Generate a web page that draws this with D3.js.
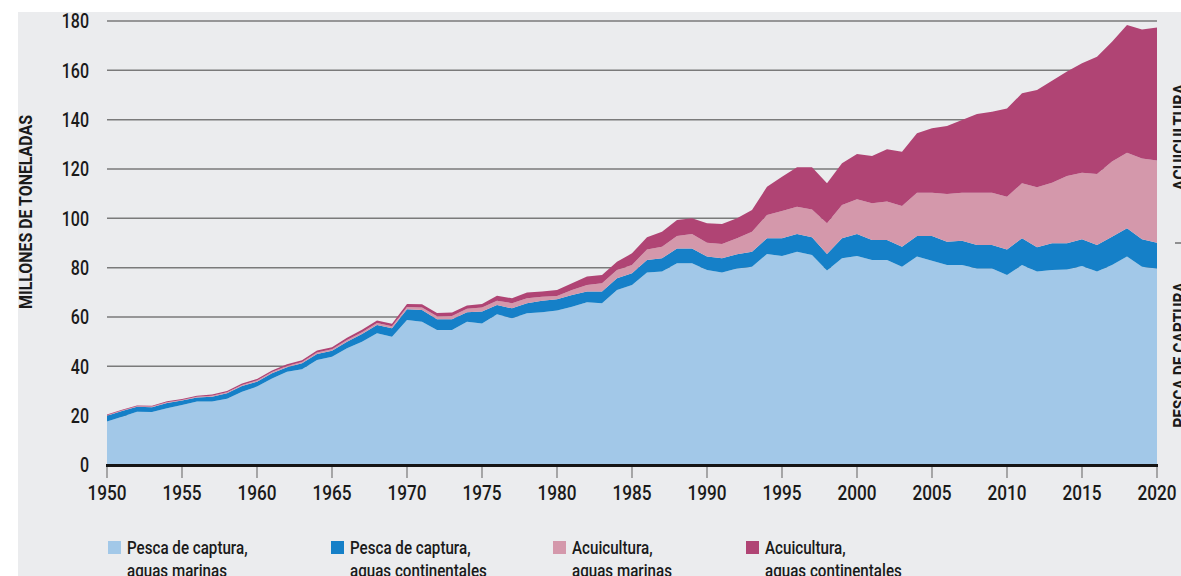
<!DOCTYPE html>
<html><head><meta charset="utf-8">
<script src="https://cdn.jsdelivr.net/npm/d3@7"></script>
<style>
html,body{margin:0;padding:0;background:#fff;}
svg{display:block;}
text{font-family:Roboto,"Liberation Sans",sans-serif;fill:#1a1a1a;font-weight:500;}
text.bold{font-weight:700;}
</style></head><body>
<svg id="chart" width="1181" height="576"></svg>
<script>
const years = d3.range(1950, 2021);
const capturaMarina = [17.6,19.6,21.6,21.5,23.0,24.3,25.7,25.7,26.9,29.7,31.8,35.1,37.8,38.8,42.6,43.9,47.3,50.0,53.4,52.0,58.8,58.1,54.7,54.7,58.1,57.4,61.1,59.5,61.5,61.9,62.6,64.2,66.0,65.6,70.9,73.0,78.0,78.4,81.8,81.8,79.1,78.0,79.7,80.4,85.5,84.7,86.5,85.1,78.9,83.8,84.7,83.1,83.1,80.4,84.5,82.8,81.1,81.1,79.7,79.7,77.0,81.1,78.4,79.1,79.3,80.7,78.4,81.1,84.5,80.4,79.7];
const capturaContinental = [2.4,2.3,2.0,1.9,2.1,1.8,1.7,2.0,2.2,2.3,2.0,2.1,1.8,2.4,2.4,2.4,2.7,3.1,3.4,3.4,4.3,4.7,4.4,4.4,3.8,4.8,3.8,4.0,4.1,4.7,4.6,4.7,4.3,4.7,4.8,4.7,5.1,5.4,6.0,6.0,5.4,5.8,5.7,6.1,6.4,7.2,7.1,7.2,6.6,8.1,8.9,8.1,8.1,8.1,8.3,10.0,9.4,9.8,9.5,9.5,10.4,10.8,9.9,10.8,10.6,10.8,10.8,11.4,11.5,11.1,10.4];
const acuiculturaMarina = [0.2,0.2,0.2,0.3,0.3,0.3,0.3,0.4,0.4,0.4,0.5,0.5,0.5,0.6,0.6,0.6,0.7,0.7,0.8,0.8,1.0,1.1,1.2,1.3,1.4,1.7,1.7,2.1,2.0,1.6,1.3,2.0,2.7,3.4,3.4,3.4,4.3,4.7,5.0,5.8,5.6,5.8,6.5,8.1,9.5,11.1,11.1,11.3,12.5,13.5,14.1,14.9,15.6,16.5,17.6,17.6,19.4,19.5,21.2,21.2,21.4,22.3,24.3,24.5,27.3,27.0,28.8,30.5,30.6,32.8,33.3];
const acuiculturaContinental = [0.3,0.3,0.3,0.3,0.4,0.4,0.4,0.5,0.5,0.6,0.6,0.6,0.7,0.7,0.8,0.8,0.9,1.0,1.0,1.1,1.2,1.3,1.3,1.4,1.4,1.4,2.0,2.0,2.3,2.1,2.4,2.8,3.4,3.3,3.3,4.7,4.9,6.1,6.5,6.4,7.9,8.1,8.1,8.8,11.4,13.9,16.0,17.1,16.2,16.9,18.4,19.2,21.2,22.0,24.1,26.1,27.5,29.5,31.9,32.8,35.7,36.5,39.4,41.4,42.3,44.4,47.5,48.6,51.8,52.3,54.0];
const yTicks = [0,20,40,60,80,100,120,140,160,180];
const xTicks = [1950,1955,1960,1965,1970,1975,1980,1985,1990,1995,2000,2005,2010,2015,2020];
const seriesKeys = ["cm","cc","am","ac"];
const seriesColors = ["#a2c8e8","#1580c8","#d498ab","#b04474"];
const legendLine1 = ["Pesca de captura,","Pesca de captura,","Acuicultura,","Acuicultura,"];
const legendLine2 = ["aguas marinas","aguas continentales","aguas marinas","aguas continentales"];
const yTitle = "MILLONES DE TONELADAS";
const sideLabels = ["ACUICULTURA","PESCA DE CAPTURA"];

const table = years.map((y,i)=>({year:y, cm:capturaMarina[i], cc:capturaContinental[i], am:acuiculturaMarina[i], ac:acuiculturaContinental[i]}));

const svg = d3.select("#chart");
svg.append("rect").attr("x",18).attr("y",12).attr("width",1181-18).attr("height",576-12).attr("fill","#ebecee");

const x = d3.scaleLinear().domain([1950,2020]).range([107,1157]);
const y = d3.scaleLinear().domain([0,180]).range([465,21]);

// grid
svg.append("g").selectAll("line").data(yTicks.filter(d=>d>0)).join("line")
  .attr("x1",x(1950)).attr("x2",x(2020)).attr("y1",d=>y(d)).attr("y2",d=>y(d))
  .attr("stroke","#7a7a7a").attr("stroke-width",1.5);

// areas
const stack = d3.stack().keys(seriesKeys);
const layers = stack(table);
const area = d3.area().x(d=>x(d.data.year)).y0(d=>y(d[0])).y1(d=>y(d[1]));
svg.append("g").selectAll("path").data(layers).join("path")
  .attr("d",area).attr("fill",(d,i)=>seriesColors[i]);

// baseline
svg.append("line").attr("x1",x(1950)-1).attr("x2",x(2020)+1).attr("y1",y(0)+0.5).attr("y2",y(0)+0.5)
  .attr("stroke","#151515").attr("stroke-width",3);

// y labels (condensed by horizontal scale)
svg.append("g").selectAll("text").data(yTicks).join("text")
  .attr("transform",d=>`translate(89,${y(d)}) scale(0.8,1)`)
  .attr("dy","0.36em").attr("text-anchor","end")
  .attr("font-size",20).text(d=>d);

// x ticks and labels
const xg = svg.append("g");
xg.selectAll("line").data(xTicks).join("line")
  .attr("x1",d=>x(d)).attr("x2",d=>x(d)).attr("y1",y(0)+2).attr("y2",y(0)+13)
  .attr("stroke","#777").attr("stroke-width",1.2);
xg.selectAll("text").data(xTicks).join("text")
  .attr("transform",d=>`translate(${x(d)},500) scale(0.84,1)`)
  .attr("text-anchor","middle")
  .attr("font-size",20.5).text(d=>d);

// y title
svg.append("text").attr("class","bold").attr("transform","translate(32,212) rotate(-90) scale(0.86,1)")
  .attr("text-anchor","middle").attr("font-size",18.5).text(yTitle);

// side labels
svg.append("text").attr("class","bold").attr("transform","translate(1186,137) rotate(-90) scale(0.9,1)")
  .attr("text-anchor","middle").attr("font-size",18).text(sideLabels[0]);
svg.append("text").attr("class","bold").attr("transform","translate(1186,355) rotate(-90) scale(0.86,1)")
  .attr("text-anchor","middle").attr("font-size",18).text(sideLabels[1]);
svg.append("line").attr("x1",1175).attr("x2",1181).attr("y1",243).attr("y2",243).attr("stroke","#333").attr("stroke-width",1);

// legend
const legendX = [108,331,553,746];
const lg = svg.append("g").selectAll("g").data(seriesKeys).join("g")
  .attr("transform",(d,i)=>`translate(${legendX[i]},0)`);
lg.append("rect").attr("x",0).attr("y",541).attr("width",13).attr("height",13).attr("fill",(d,i)=>seriesColors[i]);
lg.append("text").attr("transform","translate(19,554) scale(0.82,1)").attr("font-size",18.5).text((d,i)=>legendLine1[i]);
lg.append("text").attr("transform","translate(19,577) scale(0.82,1)").attr("font-size",18.5).text((d,i)=>legendLine2[i]);
</script>
</body></html>
